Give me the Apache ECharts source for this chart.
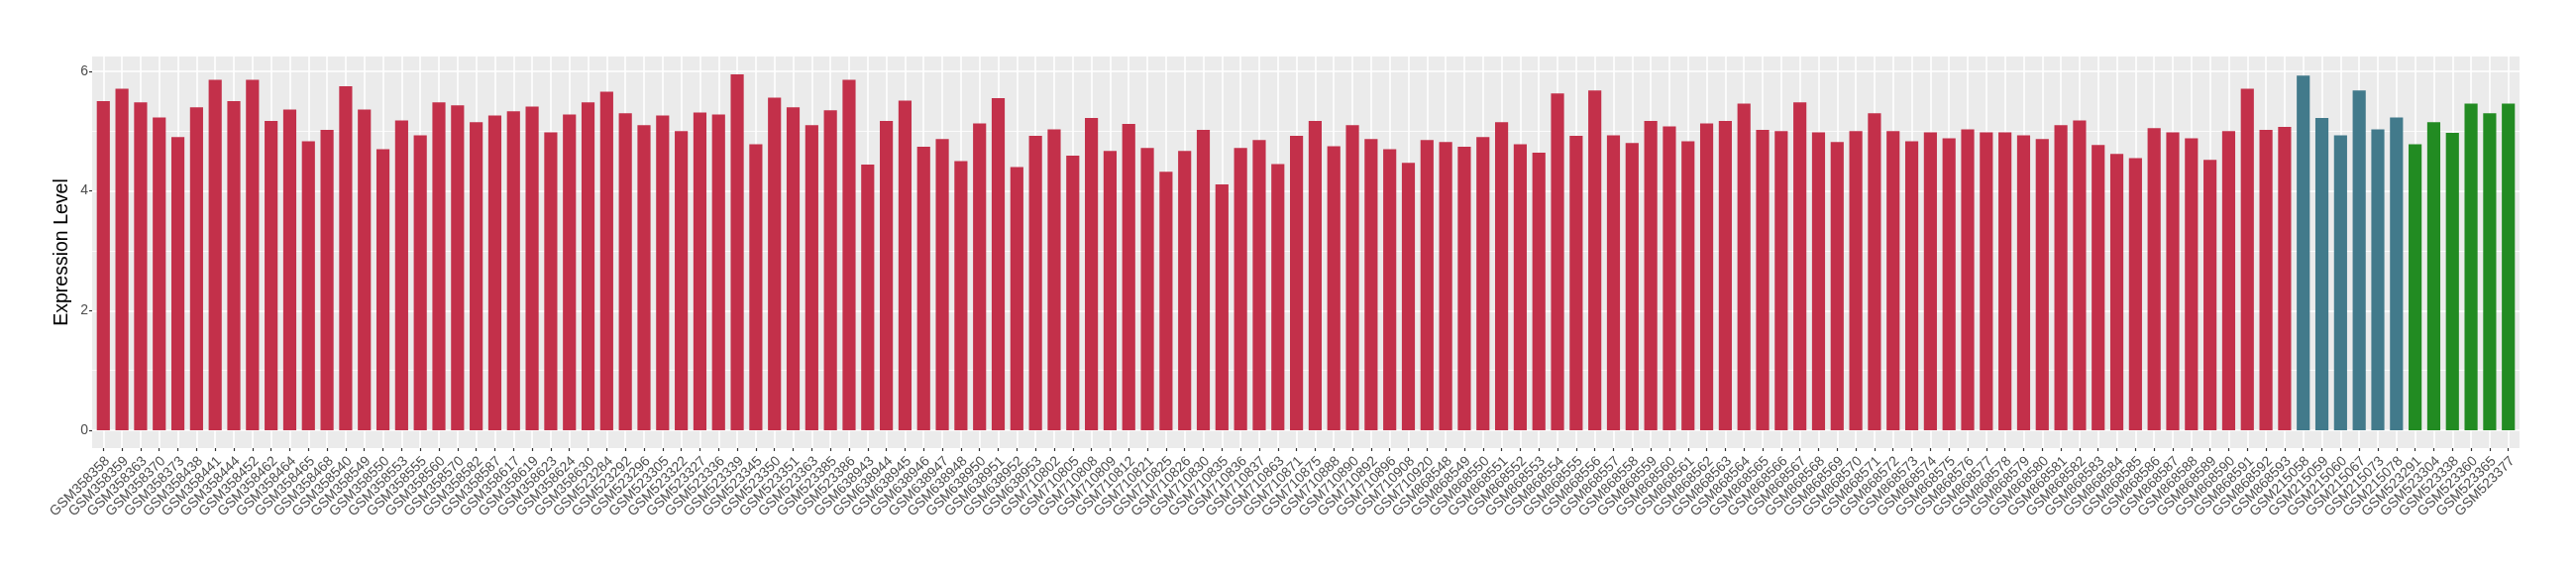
<!DOCTYPE html>
<html><head><meta charset="utf-8">
<script src="https://cdn.jsdelivr.net/npm/echarts@6/dist/echarts.min.js"></script>
<style>html,body{margin:0;padding:0;background:#fff}#c{width:2600px;height:580px}</style>
</head><body><div id="c"></div>
<script>
// ---- data ----
const catRed = ["GSM358358","GSM358359","GSM358363","GSM358370","GSM358373","GSM358438","GSM358441","GSM358444","GSM358452","GSM358462",
"GSM358464","GSM358465","GSM358468","GSM358540","GSM358549","GSM358550","GSM358553","GSM358555","GSM358560","GSM358570",
"GSM358582","GSM358587","GSM358617","GSM358619","GSM358623","GSM358624","GSM358630","GSM523284","GSM523292","GSM523296",
"GSM523305","GSM523322","GSM523327","GSM523336","GSM523339","GSM523345","GSM523350","GSM523351","GSM523363","GSM523385",
"GSM523386","GSM638943","GSM638944","GSM638945","GSM638946","GSM638947","GSM638948","GSM638950","GSM638951","GSM638952",
"GSM638953","GSM710802","GSM710805","GSM710808","GSM710809","GSM710812","GSM710821","GSM710825","GSM710826","GSM710830",
"GSM710835","GSM710836","GSM710837","GSM710863","GSM710871","GSM710875","GSM710888","GSM710890","GSM710892","GSM710896",
"GSM710908","GSM710920","GSM868548","GSM868549","GSM868550","GSM868551","GSM868552","GSM868553","GSM868554","GSM868555",
"GSM868556","GSM868557","GSM868558","GSM868559","GSM868560","GSM868561","GSM868562","GSM868563","GSM868564","GSM868565",
"GSM868566","GSM868567","GSM868568","GSM868569","GSM868570","GSM868571","GSM868572","GSM868573","GSM868574","GSM868575",
"GSM868576","GSM868577","GSM868578","GSM868579","GSM868580","GSM868581","GSM868582","GSM868583","GSM868584","GSM868585",
"GSM868586","GSM868587","GSM868588","GSM868589","GSM868590","GSM868591","GSM868592","GSM868593"];
const valRed = [5.50,5.71,5.48,5.23,4.90,5.40,5.86,5.50,5.86,5.17,
5.36,4.83,5.02,5.75,5.36,4.70,5.18,4.93,5.48,5.43,
5.15,5.26,5.33,5.41,4.98,5.28,5.48,5.66,5.30,5.10,
5.26,5.00,5.31,5.28,5.95,4.78,5.56,5.40,5.10,5.35,
5.86,4.44,5.17,5.51,4.74,4.87,4.50,5.13,5.55,4.40,
4.92,5.03,4.59,5.22,4.67,5.12,4.72,4.32,4.67,5.02,
4.11,4.72,4.85,4.45,4.92,5.17,4.75,5.10,4.87,4.70,
4.47,4.85,4.82,4.74,4.90,5.15,4.78,4.64,5.63,4.92,
5.68,4.93,4.80,5.17,5.08,4.83,5.13,5.17,5.46,5.02,
5.00,5.48,4.98,4.82,5.00,5.30,5.00,4.83,4.98,4.88,
5.03,4.98,4.98,4.93,4.87,5.10,5.18,4.77,4.62,4.55,
5.05,4.98,4.88,4.52,5.00,5.71,5.02,5.07];
const catTeal = ["GSM215058","GSM215059","GSM215060","GSM215067","GSM215073","GSM215078"];
const valTeal = [5.93,5.22,4.93,5.68,5.03,5.23];
const catGreen = ["GSM523291","GSM523304","GSM523338","GSM523360","GSM523365","GSM523377"];
const valGreen = [4.78,5.15,4.97,5.46,5.30,5.46];
const yTickValues = [0,2,4,6];
const yMinorValues = [1,3,5];

// ---- build ----
const categories = catRed.concat(catTeal, catGreen);
const N = categories.length;
const xPos = categories.map((_, i) => i + 1);
const allVals = valRed.concat(valTeal, valGreen);
const dmax = Math.max(...allVals);
const yMin = -0.05 * dmax, yMax = 1.05 * dmax;
const redData = valRed.map((v, i) => [i + 1, v]);
const tealData = valTeal.map((v, i) => [catRed.length + i + 1, v]);
const greenData = valGreen.map((v, i) => [catRed.length + catTeal.length + i + 1, v]);
const gridLines = []
  .concat(yTickValues.map(v => ({ yAxis: v, lineStyle: { width: 1.6 } })))
  .concat(yMinorValues.map(v => ({ yAxis: v, lineStyle: { width: 0.8 } })))
  .concat(xPos.map(v => ({ xAxis: v, lineStyle: { width: 1.6 } })));

const FONT = '"Liberation Sans", Arial, sans-serif';
const G = { left: 93, right: 57, top: 57, bottom: 128 };
const step = (2600 - G.left - G.right) / (N + 0.2);
const LABEL_SHIFT = 0.22 * step; // ggplot hjust=1 labels sit slightly right of the tick
const chart = echarts.init(document.getElementById('c'), null, { renderer: 'canvas' });
chart.setOption({
  animation: false,
  backgroundColor: '#ffffff',
  grid: [
    { left: G.left, right: G.right, top: G.top, bottom: G.bottom, show: true, backgroundColor: '#EBEBEB', borderWidth: 0 },
    { left: G.left + 0.1 * step + LABEL_SHIFT, right: G.right + 0.1 * step - LABEL_SHIFT, top: G.top, bottom: G.bottom, show: false }
  ],
  xAxis: [{
    type: 'value', gridIndex: 0, min: 0.4, max: N + 0.6,
    axisLine: { show: false, onZero: false },
    splitLine: { show: false },
    axisTick: { show: true, customValues: xPos, length: 3, lineStyle: { color: '#333333', width: 1.2 } },
    axisLabel: { show: false }
  }, {
    type: 'category', gridIndex: 1, data: categories, boundaryGap: true,
    axisLine: { show: false, onZero: false }, axisTick: { show: false }, splitLine: { show: false },
    axisLabel: { interval: 0, rotate: 45, margin: 11, hideOverlap: false,
      fontSize: 14, color: '#4D4D4D', fontFamily: FONT }
  }],
  yAxis: [{
    type: 'value', gridIndex: 0, min: yMin, max: yMax,
    name: 'Expression Level', nameLocation: 'middle', nameGap: 20, nameMoveOverlap: false,
    nameTextStyle: { fontSize: 19.5, color: '#000000', fontFamily: FONT },
    axisLine: { show: false, onZero: false },
    splitLine: { show: false },
    axisTick: { show: true, customValues: yTickValues, length: 3, lineStyle: { color: '#333333', width: 1.2 } },
    axisLabel: { customValues: yTickValues, margin: 4, fontSize: 14, color: '#4D4D4D', fontFamily: FONT }
  }, {
    type: 'value', gridIndex: 1, min: yMin, max: yMax, show: false
  }],
  series: [
    { type: 'line', data: [], z: 1, silent: true,
      markLine: { z: 1, silent: true, symbol: ['none', 'none'], label: { show: false },
        lineStyle: { color: '#FFFFFF', type: 'solid', opacity: 1 }, emphasis: { disabled: true },
        animation: false, data: gridLines } },
    { type: 'bar', data: redData, barWidth: '70%', barGap: '-100%', z: 3, itemStyle: { color: '#C3304A' } },
    { type: 'bar', data: tealData, barWidth: '70%', barGap: '-100%', z: 3, itemStyle: { color: '#427A8B' } },
    { type: 'bar', data: greenData, barWidth: '70%', barGap: '-100%', z: 3, itemStyle: { color: '#228B22' } }
  ]
});
</script>
</body></html>
